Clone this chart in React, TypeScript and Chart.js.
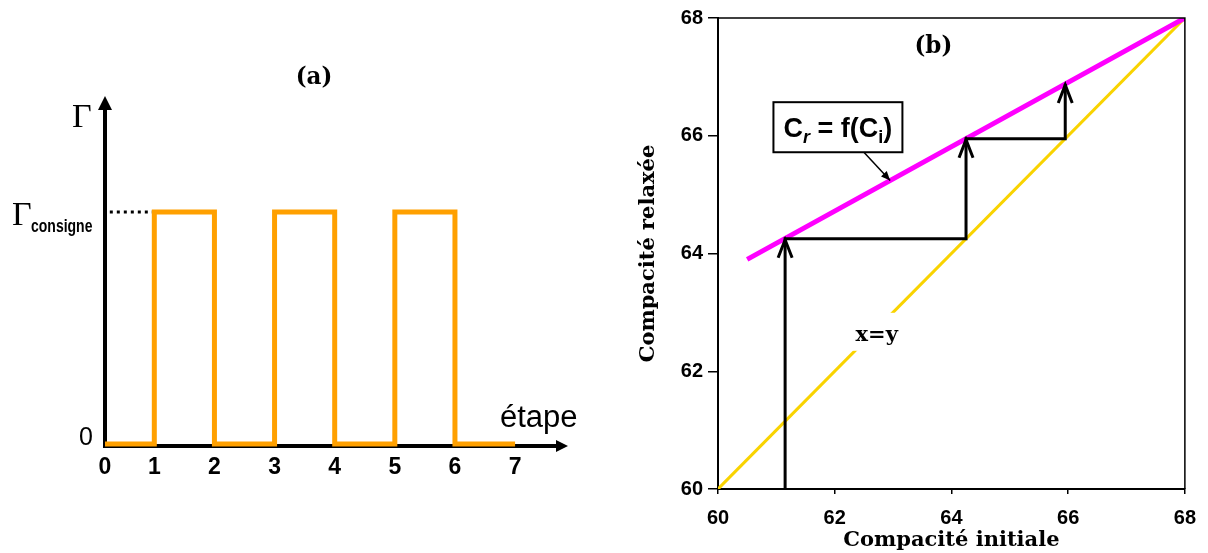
import React, { useEffect, useRef } from "react";
import { Chart, registerables } from "chart.js";
Chart.register(...registerables);

// ---------- Panel (a): loading steps ----------
const stepsX = [0.18, 1, 1, 2, 2, 3, 3, 4, 4, 5, 5, 6, 6, 7];
const gammaSteps = [0, 0, 1, 1, 0, 0, 1, 1, 0, 0, 1, 1, 0, 0];
const consigneX = [0.26, 1];
const consigneY = [1, 1];
const stepTickValues = [0.18, 1, 2, 3, 4, 5, 6, 7];
const stepTickLabels = ["0", "1", "2", "3", "4", "5", "6", "7"];
const gammaTickValues = [0];
const gammaTickLabels = ["0"];

// ---------- Panel (b): compacity iteration ----------
const identityX = [60, 68];
const identityY = [60, 68];
const relaxedX = [60.5, 68];
const relaxedY = [63.9, 68];
const iterX = [61.15, 61.15, 64.25, 64.25, 65.95, 65.95];
const iterY = [60, 64.25, 64.25, 65.95, 65.95, 66.88];
const compTicks = [60, 62, 64, 66, 68];

const toPts = (xs: number[], ys: number[]) => xs.map((x, i) => ({ x, y: ys[i] }));

function drawText(
  ctx: CanvasRenderingContext2D,
  s: string,
  x: number,
  y: number,
  font: string,
  align: CanvasTextAlign = "left",
  baseline: CanvasTextBaseline = "alphabetic",
  sy = 1,
  color = "#000"
) {
  ctx.save();
  ctx.translate(x, y);
  ctx.scale(1, sy);
  ctx.font = font;
  ctx.textAlign = align;
  ctx.textBaseline = baseline;
  ctx.fillStyle = color;
  ctx.fillText(s, 0, 0);
  ctx.restore();
}

const panelAPlugin = {
  id: "panelA",
  beforeDatasetsDraw(chart: any) {
    const { ctx, chartArea: a } = chart;
    const y0 = a.bottom - 1.5;
    ctx.save();
    ctx.strokeStyle = "#000";
    ctx.fillStyle = "#000";
    ctx.lineWidth = 4;
    ctx.beginPath();
    ctx.moveTo(a.left, y0 + 2);
    ctx.lineTo(a.left, a.top + 12);
    ctx.stroke();
    ctx.beginPath();
    ctx.moveTo(a.left - 7, a.top + 14);
    ctx.lineTo(a.left, a.top);
    ctx.lineTo(a.left + 7, a.top + 14);
    ctx.closePath();
    ctx.fill();
    ctx.beginPath();
    ctx.moveTo(a.left - 2, y0);
    ctx.lineTo(a.right - 10, y0);
    ctx.stroke();
    ctx.beginPath();
    ctx.moveTo(a.right - 12, y0 - 6);
    ctx.lineTo(a.right, y0);
    ctx.lineTo(a.right - 12, y0 + 6);
    ctx.closePath();
    ctx.fill();
    ctx.restore();
  },
  afterDatasetsDraw(chart: any) {
    const { ctx, chartArea: a, scales } = chart;
    const yc = scales.y.getPixelForValue(1);
    drawText(ctx, "(a)", a.left + 209, a.top - 18, "bold 23px 'DejaVu Serif'", "center", "middle", 1.05);
    drawText(ctx, "Γ", a.left - 33, a.top + 31, "34px 'Liberation Serif'");
    drawText(ctx, "Γ", a.left - 93, yc + 12.5, "34px 'Liberation Serif'");
    drawText(ctx, "consigne", a.left - 74, yc + 19.5, "bold 14px 'Liberation Sans'", "left", "alphabetic", 1.35);
    drawText(ctx, "étape", a.right - 68, a.bottom - 21, "31px 'Liberation Sans'");
  },
};

const panelBPlugin = {
  id: "panelB",
  afterDatasetsDraw(chart: any) {
    const { ctx, chartArea: a, scales } = chart;
    const X = (v: number) => scales.x.getPixelForValue(v);
    const Y = (v: number) => scales.y.getPixelForValue(v);
    ctx.save();
    ctx.strokeStyle = "#000";
    ctx.lineWidth = 1.5;
    ctx.beginPath();
    ctx.moveTo(a.left, a.top);
    ctx.lineTo(a.right, a.top);
    ctx.lineTo(a.right, a.bottom);
    ctx.stroke();

    const meta = chart.getDatasetMeta(0);
    ctx.lineWidth = 3;
    ctx.lineCap = "butt";
    for (let i = 1; i < iterX.length; i++) {
      if (iterX[i] === iterX[i - 1] && iterY[i] > iterY[i - 1]) {
        const p = meta.data[i];
        ctx.beginPath();
        ctx.moveTo(p.x - 7, p.y + 19);
        ctx.lineTo(p.x, p.y + 1);
        ctx.lineTo(p.x + 7, p.y + 19);
        ctx.stroke();
      }
    }

    const bx1 = X(60.95), bx2 = X(63.16), by1 = Y(66.57), by2 = Y(65.72);
    ctx.fillStyle = "#fff";
    ctx.fillRect(bx1, by1, bx2 - bx1, by2 - by1);
    ctx.lineWidth = 2;
    ctx.strokeRect(bx1, by1, bx2 - bx1, by2 - by1);
    const big = "bold 27px 'Liberation Sans'";
    const subI = "italic bold 18px 'Liberation Sans'";
    const sub = "bold 18px 'Liberation Sans'";
    const segs = [
      { t: "C", f: big, dy: 0 },
      { t: "r", f: subI, dy: 6 },
      { t: " = f(C", f: big, dy: 0 },
      { t: "i", f: sub, dy: 6 },
      { t: ")", f: big, dy: 0 },
    ];
    let total = 0;
    const widths = segs.map((s) => {
      ctx.font = s.f;
      const w = ctx.measureText(s.t).width;
      total += w;
      return w;
    });
    let cx = (bx1 + bx2) / 2 - total / 2;
    const base = (by1 + by2) / 2 + 10;
    segs.forEach((s, i) => {
      drawText(ctx, s.t, cx, base + s.dy, s.f);
      cx += widths[i];
    });

    const ax1 = X(62.5), ay1 = Y(65.72), ax2 = X(62.95), ay2 = Y(65.24);
    ctx.strokeStyle = "#000";
    ctx.lineWidth = 1.5;
    ctx.beginPath();
    ctx.moveTo(ax1, ay1);
    ctx.lineTo(ax2, ay2);
    ctx.stroke();
    const ang = Math.atan2(ay2 - ay1, ax2 - ax1);
    ctx.fillStyle = "#000";
    ctx.beginPath();
    ctx.moveTo(ax2, ay2);
    ctx.lineTo(ax2 - 10 * Math.cos(ang - 0.4), ay2 - 10 * Math.sin(ang - 0.4));
    ctx.lineTo(ax2 - 10 * Math.cos(ang + 0.4), ay2 - 10 * Math.sin(ang + 0.4));
    ctx.closePath();
    ctx.fill();

    const lx = X(62.72), ly = Y(62.67);
    ctx.fillStyle = "#fff";
    ctx.fillRect(lx - 37, ly - 19, 74, 38);
    drawText(ctx, "x=y", lx, ly + 4, "bold 21px 'DejaVu Serif'", "center", "middle");

    drawText(ctx, "(b)", X(63.69), Y(67.51), "bold 23px 'DejaVu Serif'", "center", "middle", 1.05);
    ctx.restore();
  },
};

export default function App() {
  const refA = useRef<HTMLCanvasElement>(null);
  const refB = useRef<HTMLCanvasElement>(null);

  useEffect(() => {
    const chartA = new Chart(refA.current!, {
      type: "scatter",
      data: {
        datasets: [
          {
            data: toPts(stepsX, gammaSteps),
            showLine: true,
            borderColor: "#ffa000",
            borderWidth: 5,
            pointRadius: 0,
            fill: false,
          },
          {
            data: toPts(consigneX, consigneY),
            showLine: true,
            borderColor: "#000",
            borderWidth: 3,
            borderDash: [3, 4],
            pointRadius: 0,
            fill: false,
          },
        ],
      },
      options: {
        responsive: false,
        animation: false,
        events: [],
        layout: { padding: { top: 96, right: 32, left: 0, bottom: 0 } },
        plugins: { legend: { display: false }, tooltip: { enabled: false } },
        scales: {
          x: {
            type: "linear",
            min: 0.18,
            max: 7.88,
            afterBuildTicks: (s: any) => {
              s.ticks = stepTickValues.map((v) => ({ value: v }));
            },
            afterFit: (s: any) => {
              s.height = 105.5;
            },
            ticks: {
              autoSkip: false,
              maxRotation: 0,
              padding: 6,
              color: "#000",
              font: { family: "'Liberation Sans'", size: 23, weight: "bold" },
              callback: (v: any) => stepTickLabels[stepTickValues.indexOf(Number(v))] ?? "",
            },
            grid: { display: false, drawTicks: false },
            border: { display: false },
          },
          y: {
            type: "linear",
            min: -0.015,
            max: 1.5,
            afterBuildTicks: (s: any) => {
              s.ticks = gammaTickValues.map((v) => ({ value: v }));
            },
            afterFit: (s: any) => {
              s.width = 105;
            },
            ticks: {
              padding: 12,
              labelOffset: -6,
              color: "#000",
              font: { family: "'Liberation Sans'", size: 25 },
              callback: (v: any) => gammaTickLabels[gammaTickValues.indexOf(Number(v))] ?? "",
            },
            grid: { display: false, drawTicks: false },
            border: { display: false },
          },
        },
      },
      plugins: [panelAPlugin],
    } as any);

    const chartB = new Chart(refB.current!, {
      type: "scatter",
      data: {
        datasets: [
          {
            data: toPts(iterX, iterY),
            showLine: true,
            borderColor: "#000",
            borderWidth: 3,
            pointRadius: 0,
            fill: false,
          },
          {
            data: toPts(relaxedX, relaxedY),
            showLine: true,
            borderColor: "#ff00ff",
            borderWidth: 5,
            pointRadius: 0,
            fill: false,
          },
          {
            data: toPts(identityX, identityY),
            showLine: true,
            borderColor: "#f9d300",
            borderWidth: 3,
            pointRadius: 0,
            fill: false,
          },
        ],
      },
      options: {
        responsive: false,
        animation: false,
        events: [],
        layout: { padding: { top: 18, right: 12, left: 32, bottom: 0 } },
        plugins: { legend: { display: false }, tooltip: { enabled: false } },
        scales: {
          x: {
            type: "linear",
            min: 60,
            max: 68,
            afterBuildTicks: (s: any) => {
              s.ticks = compTicks.map((v) => ({ value: v }));
            },
            afterFit: (s: any) => {
              s.height = 64;
            },
            ticks: {
              autoSkip: false,
              maxRotation: 0,
              padding: 12,
              color: "#000",
              font: { family: "'Liberation Sans'", size: 20, weight: "bold" },
            },
            grid: { drawOnChartArea: false, drawTicks: true, tickLength: 5, color: "#000", lineWidth: 1.5 },
            border: { display: true, color: "#000", width: 2 },
            title: {
              display: true,
              text: "Compacité initiale",
              color: "#000",
              padding: { top: 0, bottom: 0 },
              font: { family: "'DejaVu Serif'", size: 21, weight: "bold" },
            },
          },
          y: {
            type: "linear",
            min: 60,
            max: 68,
            afterBuildTicks: (s: any) => {
              s.ticks = compTicks.map((v) => ({ value: v }));
            },
            afterFit: (s: any) => {
              s.width = 86;
            },
            ticks: {
              padding: 5,
              color: "#000",
              font: { family: "'Liberation Sans'", size: 20, weight: "bold" },
            },
            grid: { drawOnChartArea: false, drawTicks: true, tickLength: 10, color: "#000", lineWidth: 1.5 },
            border: { display: true, color: "#000", width: 2 },
            title: {
              display: true,
              text: "Compacité relaxée",
              color: "#000",
              padding: { top: 4, bottom: 0 },
              font: { family: "'DejaVu Serif'", size: 21, weight: "bold" },
            },
          },
        },
      },
      plugins: [panelBPlugin],
    } as any);

    return () => {
      chartA.destroy();
      chartB.destroy();
    };
  }, []);

  return (
    <div style={{ position: "absolute", left: 0, top: 0, width: 1208, height: 553, background: "#fff" }}>
      <canvas ref={refA} width={600} height={553} style={{ position: "absolute", left: 0, top: 0 }} />
      <canvas ref={refB} width={608} height={553} style={{ position: "absolute", left: 600, top: 0 }} />
    </div>
  );
}
